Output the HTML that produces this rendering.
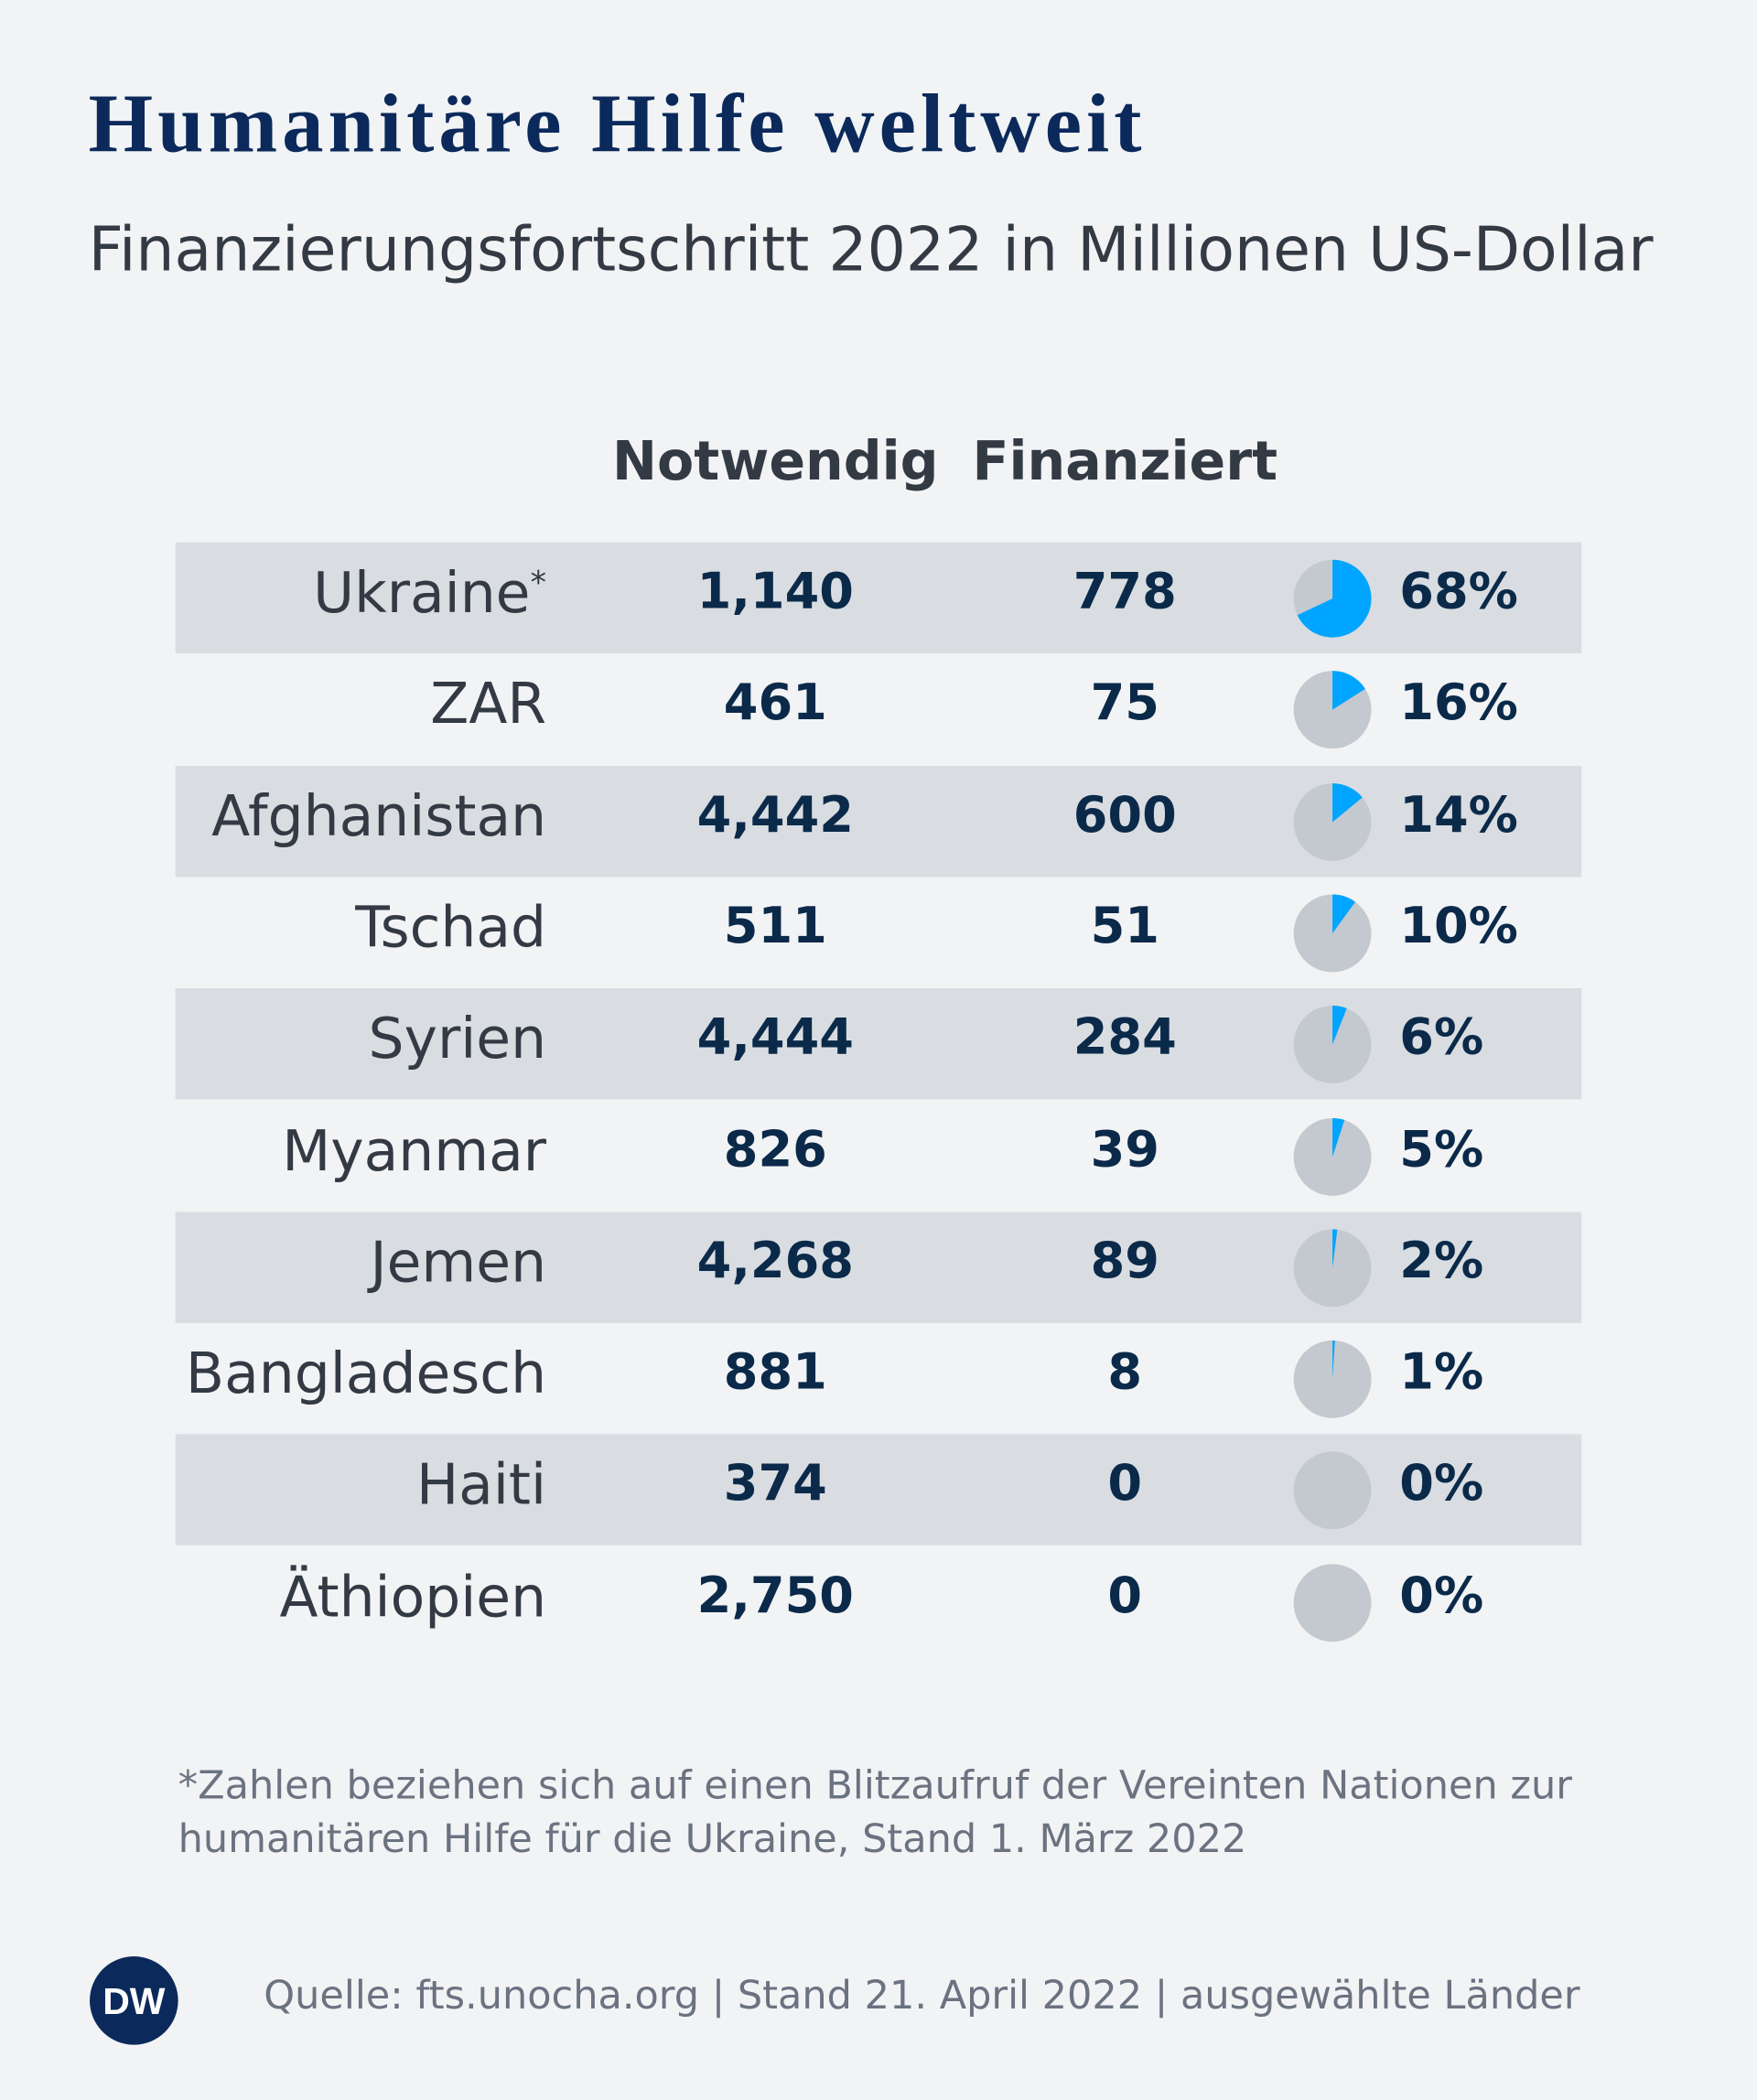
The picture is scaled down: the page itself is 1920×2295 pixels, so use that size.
<!DOCTYPE html>
<html><head><meta charset="utf-8">
<style>
html,body{margin:0;padding:0;background:#f2f3f5;}
body{width:1920px;height:2295px;overflow:hidden;}
#wrap{position:absolute;left:0;top:0;width:1312px;height:1568px;transform:scale(1.46341);transform-origin:0 0;font-family:"DejaVu Sans","Liberation Sans",sans-serif;}
.abs{position:absolute;white-space:nowrap;}
#title{left:66px;top:58px;font-family:"Liberation Serif",serif;font-weight:bold;font-size:62px;letter-spacing:3.4px;color:#0b2a5b;}
#subtitle{left:66px;top:160px;font-size:45.4px;color:#333a44;}
.hdr{top:322px;font-size:40px;font-weight:bold;color:#333a44;transform:translateX(-50%);}
.row{position:absolute;left:131px;width:1050px;height:83px;}
.country{position:absolute;right:773px;top:13px;font-size:42px;color:#333a44;}
.num{position:absolute;top:15px;font-size:37px;font-weight:bold;color:#0b2a4a;transform:translateX(-50%);}
.pct{position:absolute;left:914px;top:15px;font-size:37px;font-weight:bold;color:#0b2a4a;}
.pie{position:absolute;left:834px;top:12px;}
#foot{left:133px;top:1313px;font-size:29.4px;color:#6b7280;line-height:40px;}
#src{left:197px;top:1473px;font-size:29.4px;color:#6b7280;}
</style></head><body>
<div id="wrap">
<div class="abs" id="title">Humanitäre Hilfe weltweit</div>
<div class="abs" id="subtitle">Finanzierungsfortschritt 2022 in Millionen US-Dollar</div>
<div class="abs hdr" style="left:579px">Notwendig</div>
<div class="abs hdr" style="left:840px">Finanziert</div>
<div id="rows"></div>
<div class="abs" id="foot">*Zahlen beziehen sich auf einen Blitzaufruf der Vereinten Nationen zur<br>humanitären Hilfe für die Ukraine, Stand 1. März 2022</div>
<svg class="abs" style="left:66px;top:1460px" width="72" height="68">
<circle cx="34" cy="34" r="33" fill="#0b2a5b"/>
<text x="34" y="44" text-anchor="middle" font-family="Liberation Sans" font-weight="bold" font-size="28" fill="#fff">DW</text>
</svg>
<div class="abs" id="src">Quelle: fts.unocha.org | Stand 21. April 2022 | ausgewählte Länder</div>
</div>
<script>
const countries=["Ukraine","ZAR","Afghanistan","Tschad","Syrien","Myanmar","Jemen","Bangladesch","Haiti","Äthiopien"];
const needed=["1,140","461","4,442","511","4,444","826","4,268","881","374","2,750"];
const funded=["778","75","600","51","284","39","89","8","0","0"];
const percent=[68,16,14,10,6,5,2,1,0,0];
const rows=document.getElementById('rows');
const top0=405,rowH=83.3;
countries.forEach((c,i)=>{
  const r=document.createElement('div');
  r.className='row';
  
  
  r.style.top=(top0+i*rowH)+'px';
  r.style.background=i%2===0?'#d9dde1':'transparent';
  const cn=document.createElement('div');cn.className='country';
  
  
  cn.innerHTML=c+(i===0?'<sup style="font-size:24px;vertical-align:14px">*</sup>':'');
  r.appendChild(cn);
  const n1=document.createElement('div');n1.className='num';n1.style.left=(579-131)+'px';n1.textContent=needed[i];
  
  
  r.appendChild(n1);
  const n2=document.createElement('div');n2.className='num';n2.style.left=(840-131)+'px';n2.textContent=funded[i];
  
  
  r.appendChild(n2);
  const ns='http://www.w3.org/2000/svg';
  const s=document.createElementNS(ns,'svg');s.setAttribute('class','pie');s.setAttribute('width','60');s.setAttribute('height','60');
  
  
  const cx=30,cy=30,R=29;
  const bg=document.createElementNS(ns,'circle');bg.setAttribute('cx',cx);bg.setAttribute('cy',cy);bg.setAttribute('r',R);bg.setAttribute('fill','#c4c9cf');
  
  
  s.appendChild(bg);
  const p=percent[i];
  if(p>0){
    const a=p/100*2*Math.PI;
    const x=cx+R*Math.sin(a),y=cy-R*Math.cos(a);
    const path=document.createElementNS(ns,'path');
    path.setAttribute('d',`M${cx},${cy} L${cx},${cy-R} A${R},${R} 0 ${p>50?1:0} 1 ${x},${y} Z`);
    path.setAttribute('fill','#00a5ff');
    
    
    s.appendChild(path);
  }
  r.appendChild(s);
  const pc=document.createElement('div');pc.className='pct';pc.textContent=p+'%';
  
  
  r.appendChild(pc);
  rows.appendChild(r);
});
</script>
</body></html>
